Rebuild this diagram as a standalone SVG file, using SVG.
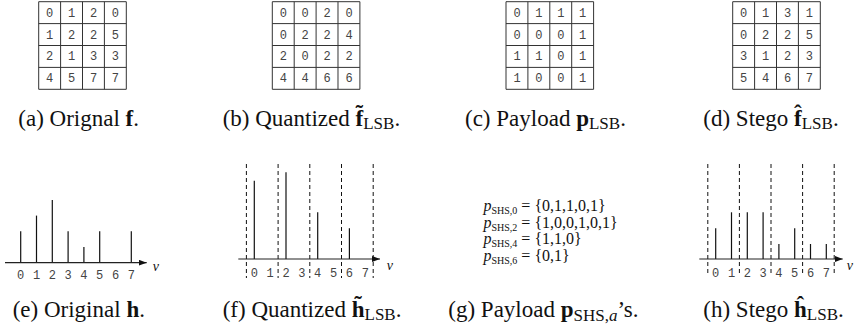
<svg xmlns="http://www.w3.org/2000/svg" width="855" height="331" viewBox="0 0 855 331">
  <defs>
    <style>
      .grid { fill: none; stroke: #333; stroke-width: 1; }
      .num { font-family: 'Liberation Mono', 'DejaVu Sans Mono', monospace; font-size: 12px; fill: #444; text-anchor: middle; }
      .cap { font-family: 'Liberation Serif', 'DejaVu Serif', serif; font-size: 23px; fill: #111; }
      .b { font-weight: bold; }
      .sub { font-size: 17px; }
      .bar { stroke: #111; stroke-width: 1.2; }
      .axis { stroke: #222; stroke-width: 1.2; fill: none; }
      .dash { stroke: #111; stroke-width: 1; stroke-dasharray: 4 3; }
      .var { font-family: 'Liberation Serif', 'DejaVu Serif', serif; font-style: italic; font-size: 14px; fill: #111; }
      .pl { font-family: 'Liberation Serif', 'DejaVu Serif', serif; font-size: 16px; fill: #111; }
    </style>
    <marker id="arr" markerWidth="8" markerHeight="6" refX="8" refY="3" orient="auto" markerUnits="userSpaceOnUse">
      <path d="M0,0 L8,3 L0,6 Z" fill="#111"/>
    </marker>
    <!-- 4x4 table frame, cell size 21.9 -->
    <path id="table" class="grid" d="M0,0 H87.6 V87.6 H0 Z M21.9,0 V87.6 M43.8,0 V87.6 M65.7,0 V87.6 M0,21.9 H87.6 M0,43.8 H87.6 M0,65.7 H87.6"/>
  </defs>

  <!-- (a) original image block -->
  <g id="panel-a">
    <g transform="translate(38.7,1.7)">
      <use href="#table"/>
      <g class="num">
        <text x="11" y="15">0</text><text x="32.9" y="15">1</text><text x="54.8" y="15">2</text><text x="76.7" y="15">0</text>
        <text x="11" y="36.9">1</text><text x="32.9" y="36.9">2</text><text x="54.8" y="36.9">2</text><text x="76.7" y="36.9">5</text>
        <text x="11" y="58.8">2</text><text x="32.9" y="58.8">1</text><text x="54.8" y="58.8">3</text><text x="76.7" y="58.8">3</text>
        <text x="11" y="80.7">4</text><text x="32.9" y="80.7">5</text><text x="54.8" y="80.7">7</text><text x="76.7" y="80.7">7</text>
      </g>
    </g>
    <text class="cap" x="18.3" y="126">(a) Orignal <tspan class="b">f</tspan>.</text>
  </g>

  <!-- (b) quantized block -->
  <g id="panel-b">
    <g transform="translate(272.3,1.7)">
      <use href="#table"/>
      <g class="num">
        <text x="11" y="15">0</text><text x="32.9" y="15">0</text><text x="54.8" y="15">2</text><text x="76.7" y="15">0</text>
        <text x="11" y="36.9">0</text><text x="32.9" y="36.9">2</text><text x="54.8" y="36.9">2</text><text x="76.7" y="36.9">4</text>
        <text x="11" y="58.8">2</text><text x="32.9" y="58.8">0</text><text x="54.8" y="58.8">2</text><text x="76.7" y="58.8">2</text>
        <text x="11" y="80.7">4</text><text x="32.9" y="80.7">4</text><text x="54.8" y="80.7">6</text><text x="76.7" y="80.7">6</text>
      </g>
    </g>
    <text class="cap" x="222.7" y="126">(b) Quantized <tspan class="b">f</tspan><tspan class="b" dx="-7.66" dy="-5">˜</tspan><tspan class="sub" dy="8">LSB</tspan><tspan dy="-3">.</tspan></text>
  </g>

  <!-- (c) payload bits -->
  <g id="panel-c">
    <g transform="translate(506,1.7)">
      <use href="#table"/>
      <g class="num">
        <text x="11" y="15">0</text><text x="32.9" y="15">1</text><text x="54.8" y="15">1</text><text x="76.7" y="15">1</text>
        <text x="11" y="36.9">0</text><text x="32.9" y="36.9">0</text><text x="54.8" y="36.9">0</text><text x="76.7" y="36.9">1</text>
        <text x="11" y="58.8">1</text><text x="32.9" y="58.8">1</text><text x="54.8" y="58.8">0</text><text x="76.7" y="58.8">1</text>
        <text x="11" y="80.7">1</text><text x="32.9" y="80.7">0</text><text x="54.8" y="80.7">0</text><text x="76.7" y="80.7">1</text>
      </g>
    </g>
    <text class="cap" x="465" y="126">(c) Payload <tspan class="b">p</tspan><tspan class="sub" dy="3">LSB</tspan><tspan dy="-3">.</tspan></text>
  </g>

  <!-- (d) stego block -->
  <g id="panel-d">
    <g transform="translate(732.7,1.7)">
      <use href="#table"/>
      <g class="num">
        <text x="11" y="15">0</text><text x="32.9" y="15">1</text><text x="54.8" y="15">3</text><text x="76.7" y="15">1</text>
        <text x="11" y="36.9">0</text><text x="32.9" y="36.9">2</text><text x="54.8" y="36.9">2</text><text x="76.7" y="36.9">5</text>
        <text x="11" y="58.8">3</text><text x="32.9" y="58.8">1</text><text x="54.8" y="58.8">2</text><text x="76.7" y="58.8">3</text>
        <text x="11" y="80.7">5</text><text x="32.9" y="80.7">4</text><text x="54.8" y="80.7">6</text><text x="76.7" y="80.7">7</text>
      </g>
    </g>
    <text class="cap" x="703.3" y="126">(d) Stego <tspan class="b">f</tspan><tspan class="b" dx="-7.66" dy="-5">ˆ</tspan><tspan class="sub" dy="8">LSB</tspan><tspan dy="-3">.</tspan></text>
  </g>

  <!-- (e) original histogram -->
  <g id="panel-e">
    <g class="bar">
      <line x1="20.7" y1="262.7" x2="20.7" y2="231.3"/>
      <line x1="36.5" y1="262.7" x2="36.5" y2="215.6"/>
      <line x1="52.3" y1="262.7" x2="52.3" y2="199.9"/>
      <line x1="68.1" y1="262.7" x2="68.1" y2="231.3"/>
      <line x1="83.9" y1="262.7" x2="83.9" y2="247"/>
      <line x1="99.7" y1="262.7" x2="99.7" y2="231.3"/>
      <line x1="131.3" y1="262.7" x2="131.3" y2="231.3"/>
    </g>
    <line class="axis" x1="5" y1="262.7" x2="146.7" y2="262.7" marker-end="url(#arr)"/>
    <g class="num">
      <text x="20.7" y="279.3">0</text><text x="36.5" y="279.3">1</text><text x="52.3" y="279.3">2</text><text x="68.1" y="279.3">3</text>
      <text x="83.9" y="279.3">4</text><text x="99.7" y="279.3">5</text><text x="115.5" y="279.3">6</text><text x="131.3" y="279.3">7</text>
    </g>
    <text class="var" x="152.7" y="270.5">v</text>
    <text class="cap" x="12.7" y="317">(e) Original <tspan class="b">h</tspan>.</text>
  </g>

  <!-- (f) quantized histogram -->
  <g id="panel-f">
    <g class="dash">
      <line x1="246.4" y1="164" x2="246.4" y2="278"/>
      <line x1="278.1" y1="164" x2="278.1" y2="278"/>
      <line x1="309.8" y1="164" x2="309.8" y2="278"/>
      <line x1="341.5" y1="164" x2="341.5" y2="278"/>
      <line x1="373.2" y1="164" x2="373.2" y2="278"/>
    </g>
    <g class="bar">
      <line x1="254.3" y1="259" x2="254.3" y2="180.7"/>
      <line x1="286" y1="259" x2="286" y2="172.3"/>
      <line x1="317.7" y1="259" x2="317.7" y2="212.3"/>
      <line x1="349.4" y1="259" x2="349.4" y2="228.3"/>
    </g>
    <line class="axis" x1="238.3" y1="259" x2="380" y2="259" marker-end="url(#arr)"/>
    <g class="num">
      <text x="254.3" y="277">0</text><text x="270.2" y="277">1</text><text x="286" y="277">2</text><text x="301.9" y="277">3</text>
      <text x="317.7" y="277">4</text><text x="333.6" y="277">5</text><text x="349.4" y="277">6</text><text x="365.3" y="277">7</text>
    </g>
    <text class="var" x="386.7" y="270">v</text>
    <text class="cap" x="222.7" y="317">(f) Quantized <tspan class="b">h</tspan><tspan class="b" dx="-10.2" dy="-5">˜</tspan><tspan class="sub" dx="2.56" dy="8">LSB</tspan><tspan dy="-3">.</tspan></text>
  </g>

  <!-- (g) per-bin payload sequences -->
  <g id="panel-g">
    <text class="pl" x="483.5" y="211"><tspan font-style="italic">p</tspan><tspan font-size="10" dy="3">SHS,0</tspan><tspan dy="-3"> = {0,1,1,0,1}</tspan></text>
    <text class="pl" x="483.5" y="227.5"><tspan font-style="italic">p</tspan><tspan font-size="10" dy="3">SHS,2</tspan><tspan dy="-3"> = {1,0,0,1,0,1}</tspan></text>
    <text class="pl" x="483.5" y="244"><tspan font-style="italic">p</tspan><tspan font-size="10" dy="3">SHS,4</tspan><tspan dy="-3"> = {1,1,0}</tspan></text>
    <text class="pl" x="483.5" y="260.5"><tspan font-style="italic">p</tspan><tspan font-size="10" dy="3">SHS,6</tspan><tspan dy="-3"> = {0,1}</tspan></text>
    <text class="cap" x="448.3" y="317">(g) Payload <tspan class="b">p</tspan><tspan class="sub" dy="4">SHS,<tspan font-style="italic">a</tspan></tspan><tspan dy="-4">’s.</tspan></text>
  </g>

  <!-- (h) stego histogram -->
  <g id="panel-h">
    <g class="dash">
      <line x1="707.8" y1="164" x2="707.8" y2="275"/>
      <line x1="739.4" y1="164" x2="739.4" y2="275"/>
      <line x1="771" y1="164" x2="771" y2="275"/>
      <line x1="802.6" y1="164" x2="802.6" y2="275"/>
      <line x1="834.2" y1="164" x2="834.2" y2="275"/>
    </g>
    <g class="bar">
      <line x1="715.7" y1="259" x2="715.7" y2="228.3"/>
      <line x1="731.5" y1="259" x2="731.5" y2="212.3"/>
      <line x1="747.3" y1="259" x2="747.3" y2="212.3"/>
      <line x1="763.1" y1="259" x2="763.1" y2="212.3"/>
      <line x1="778.9" y1="259" x2="778.9" y2="244"/>
      <line x1="794.7" y1="259" x2="794.7" y2="228.3"/>
      <line x1="810.5" y1="259" x2="810.5" y2="244"/>
      <line x1="826.3" y1="259" x2="826.3" y2="244"/>
    </g>
    <line class="axis" x1="699.3" y1="259" x2="842.7" y2="259" marker-end="url(#arr)"/>
    <g class="num">
      <text x="715.7" y="277">0</text><text x="731.5" y="277">1</text><text x="747.3" y="277">2</text><text x="763.1" y="277">3</text>
      <text x="778.9" y="277">4</text><text x="794.7" y="277">5</text><text x="810.5" y="277">6</text><text x="826.3" y="277">7</text>
    </g>
    <text class="var" x="846.7" y="270">v</text>
    <text class="cap" x="703.3" y="317">(h) Stego <tspan class="b">ĥ</tspan><tspan class="sub" dy="3">LSB</tspan><tspan dy="-3">.</tspan></text>
  </g>
</svg>
